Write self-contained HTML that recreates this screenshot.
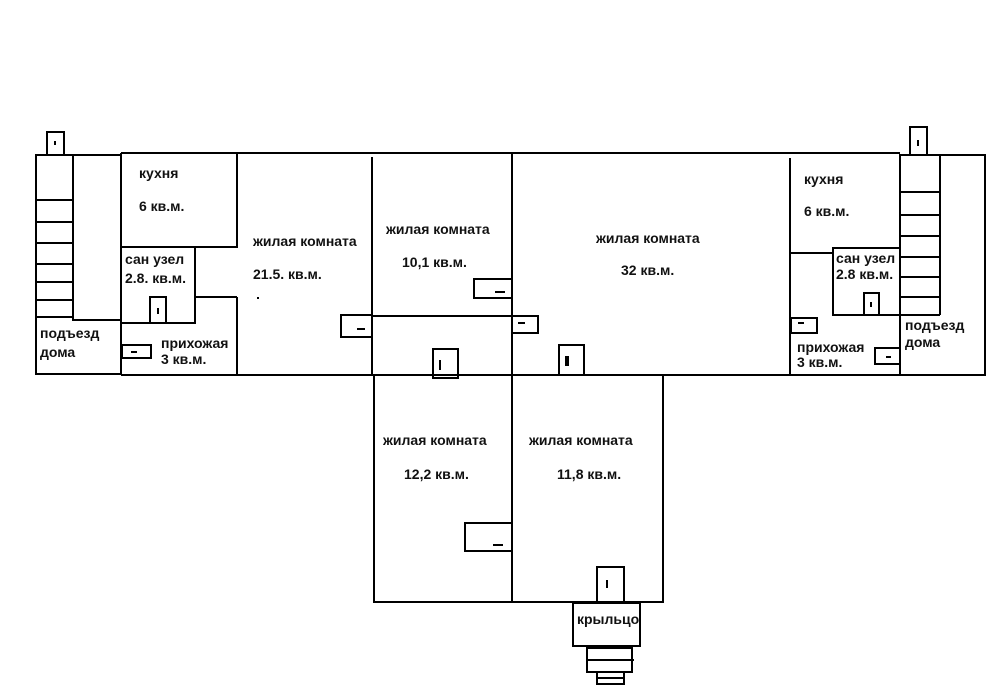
<!DOCTYPE html>
<html><head><meta charset="utf-8"><style>
html,body{margin:0;padding:0;background:#fff;width:992px;height:700px;overflow:hidden}
svg text{font-family:"Liberation Sans",Arial,sans-serif;font-weight:bold;font-size:14px;fill:#111}
</style></head><body>
<svg width="992" height="700" xmlns="http://www.w3.org/2000/svg">
<g fill="none" stroke="#000" stroke-width="2">
<rect x="36" y="155" width="85" height="219"/>
<line x1="73" y1="155" x2="73" y2="317"/>
<polyline points="36,317 73,317 73,320 121,320"/>
<line x1="36" y1="200" x2="73" y2="200"/>
<line x1="36" y1="222" x2="73" y2="222"/>
<line x1="36" y1="243" x2="73" y2="243"/>
<line x1="36" y1="264" x2="73" y2="264"/>
<line x1="36" y1="282" x2="73" y2="282"/>
<line x1="36" y1="300" x2="73" y2="300"/>
<rect x="47" y="132" width="17" height="23"/>
<line x1="121" y1="153" x2="900" y2="153"/>
<line x1="121" y1="375" x2="985" y2="375"/>
<line x1="121" y1="153" x2="121" y2="375"/>
<line x1="237" y1="153" x2="237" y2="248"/>
<rect x="121" y="247" width="74" height="76"/>
<line x1="195" y1="247" x2="237" y2="247"/>
<line x1="195" y1="297" x2="237" y2="297"/>
<line x1="237" y1="297" x2="237" y2="375"/>
<rect x="150" y="297" width="16" height="26"/>
<rect x="122" y="345" width="29" height="13"/>
<line x1="372" y1="157" x2="372" y2="375"/>
<rect x="341" y="315" width="31" height="22"/>
<line x1="372" y1="316" x2="512" y2="316"/>
<rect x="474" y="279" width="38" height="19"/>
<rect x="433" y="349" width="25" height="29"/>
<line x1="512" y1="153" x2="512" y2="375"/>
<rect x="512" y="316" width="26" height="17"/>
<rect x="559" y="345" width="25" height="30"/>
<line x1="790" y1="158" x2="790" y2="375"/>
<line x1="790" y1="253" x2="833" y2="253"/>
<rect x="833" y="248" width="67" height="67"/>
<rect x="864" y="293" width="15" height="22"/>
<rect x="791" y="318" width="26" height="15"/>
<rect x="875" y="348" width="25" height="16"/>
<rect x="900" y="155" width="85" height="220"/>
<line x1="940" y1="155" x2="940" y2="315"/>
<line x1="900" y1="315" x2="940" y2="315"/>
<line x1="900" y1="192" x2="940" y2="192"/>
<line x1="900" y1="215" x2="940" y2="215"/>
<line x1="900" y1="236" x2="940" y2="236"/>
<line x1="900" y1="257" x2="940" y2="257"/>
<line x1="900" y1="277" x2="940" y2="277"/>
<line x1="900" y1="297" x2="940" y2="297"/>
<rect x="910" y="127" width="17" height="28"/>
<rect x="374" y="375" width="138" height="227"/>
<rect x="512" y="375" width="151" height="227"/>
<rect x="465" y="523" width="47" height="28"/>
<rect x="597" y="567" width="27" height="35"/>
<rect x="573" y="603" width="67" height="43"/>
<rect x="587" y="648" width="45" height="24"/>
<line x1="587" y1="660" x2="634" y2="660"/>
<rect x="597" y="672" width="27" height="12"/>
<line x1="597" y1="678" x2="625" y2="678"/>
</g>
<g stroke="#000" stroke-width="2">
<line x1="55" y1="141" x2="55" y2="145"/>
<line x1="158" y1="308" x2="158" y2="314"/>
<line x1="131" y1="352" x2="137" y2="352"/>
<line x1="357" y1="329" x2="365" y2="329"/>
<line x1="495" y1="292" x2="505" y2="292"/>
<line x1="518" y1="323" x2="525" y2="323"/>
<line x1="440" y1="360" x2="440" y2="370"/>
<rect x="566" y="357" width="2" height="8"/>
<line x1="798" y1="323" x2="804" y2="323"/>
<line x1="886" y1="357" x2="891" y2="357"/>
<line x1="871" y1="302" x2="871" y2="307"/>
<line x1="918" y1="140" x2="918" y2="146"/>
<line x1="493" y1="545" x2="503" y2="545"/>
<line x1="607" y1="580" x2="607" y2="588"/>
<line x1="258" y1="297" x2="258" y2="299"/>
</g>
<text x="139" y="178">кухня</text>
<text x="139" y="211">6 кв.м.</text>
<text x="125" y="264">сан узел</text>
<text x="125" y="283">2.8. кв.м.</text>
<text x="40" y="338">подъезд</text>
<text x="40" y="357">дома</text>
<text x="161" y="348">прихожая</text>
<text x="161" y="364">3 кв.м.</text>
<text x="253" y="246">жилая комната</text>
<text x="253" y="279">21.5. кв.м.</text>
<text x="386" y="234">жилая комната</text>
<text x="402" y="267">10,1 кв.м.</text>
<text x="596" y="243">жилая комната</text>
<text x="621" y="275">32 кв.м.</text>
<text x="804" y="184">кухня</text>
<text x="804" y="216">6 кв.м.</text>
<text x="836" y="263">сан узел</text>
<text x="836" y="279">2.8 кв.м.</text>
<text x="905" y="330">подъезд</text>
<text x="905" y="347">дома</text>
<text x="797" y="352">прихожая</text>
<text x="797" y="367">3 кв.м.</text>
<text x="383" y="445">жилая комната</text>
<text x="404" y="479">12,2 кв.м.</text>
<text x="529" y="445">жилая комната</text>
<text x="557" y="479">11,8 кв.м.</text>
<text x="577" y="624">крыльцо</text>
</svg>
</body></html>
